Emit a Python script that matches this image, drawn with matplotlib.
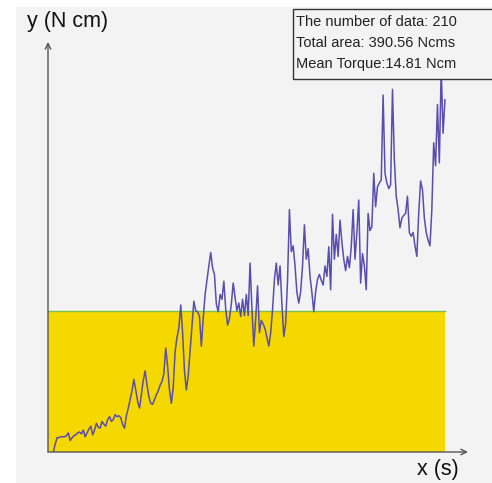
import numpy as np
import matplotlib.pyplot as plt
from matplotlib.patches import Rectangle

plt.rcParams['font.family'] = ['Liberation Sans', 'DejaVu Sans']

# torque readings (N cm), one per sample
torque = [
    0.0, 0.8, 1.5, 1.5, 1.6, 1.6, 1.6, 1.7, 2.0, 1.2,
    1.5, 1.7, 1.8, 2.0, 2.1, 1.9, 2.3, 1.6, 2.0, 2.4,
    2.7, 1.8, 2.3, 3.0, 2.6, 2.5, 3.2, 2.9, 2.7, 3.4,
    3.7, 3.2, 3.4, 3.9, 3.7, 3.8, 3.6, 2.9, 2.5, 3.8,
    4.6, 5.5, 6.4, 7.6, 6.5, 5.3, 4.6, 6.0, 7.5, 8.5,
    7.0, 5.8, 5.1, 5.0, 5.5, 6.0, 6.4, 7.0, 7.4, 8.2,
    10.9, 9.0, 6.5, 5.1, 6.8, 10.5, 12.0, 13.0, 15.4, 12.5,
    8.5, 6.5, 8.0, 10.6, 13.2, 15.8, 14.8, 14.7, 14.2, 11.1,
    14.0, 16.5, 18.0, 19.5, 20.9, 19.3, 18.6, 15.5, 14.7, 16.5,
    16.0, 17.9, 15.0, 13.3, 14.0, 15.5, 17.7, 16.2, 14.8, 15.6,
    14.2, 16.0, 14.3, 16.5, 14.3, 19.8, 15.0, 11.1, 14.0, 17.4,
    12.5, 13.8, 13.4, 12.9, 12.0, 11.1, 12.5, 14.9, 18.1, 19.8,
    17.5, 19.5, 15.5, 12.1, 13.5, 18.0, 25.4, 21.0, 21.6, 19.5,
    16.7, 15.6, 16.8, 19.5, 23.8, 20.2, 21.3, 18.4, 16.7, 14.7,
    16.8, 18.1, 18.6, 18.0, 17.5, 19.5, 18.4, 21.5, 17.0, 24.9,
    20.2, 22.8, 20.5, 24.3, 22.0, 20.2, 19.0, 20.5, 19.3, 21.5,
    25.4, 20.2, 23.0, 26.4, 17.7, 20.8, 19.5, 17.0, 25.0, 23.2,
    23.6, 29.2, 25.7, 27.8, 28.2, 28.5, 37.4, 29.2, 28.2, 27.6,
    28.0, 38.0, 30.6, 26.8, 25.4, 23.5, 24.5, 24.8, 25.0, 26.8,
    23.0, 22.6, 23.0, 21.6, 20.5, 25.0, 28.4, 27.5, 24.5, 23.0,
    22.2, 21.6, 25.4, 32.4, 30.0, 36.4, 30.3, 40.1, 33.4, 36.9,
]

n_data = 210
total_area = 390.56   # N cm s
mean_torque = 14.81   # N cm
dt = total_area / mean_torque / n_data

time = np.arange(len(torque)) * dt

fig = plt.figure(figsize=(4.92, 4.83), dpi=100)
fig.patch.set_facecolor('white')
# light grey panel behind everything
fig.patches.append(Rectangle((16 / 492, 0), 1, 1 - 7 / 483, transform=fig.transFigure,
                             facecolor='#f3f3f3', edgecolor='none', zorder=0))

ax = fig.add_axes([48 / 492, 31 / 483, 420 / 492, 410 / 483])
ax.set_zorder(2)
ax.set_facecolor('none')
x_min = -2.83 * dt
x_max = 221.3 * dt
ax.set_xlim(x_min, x_max)
ax.set_ylim(0, 42.96)

# mean torque block
ax.fill_between([x_min, time[-1]], 0, mean_torque, color='#f5d800', lw=0, zorder=1)
ax.plot([x_min, time[-1]], [mean_torque, mean_torque], color='#7cc242', lw=1.0, zorder=2)

ax.plot(time, torque, color='#5a4db0', lw=1.1, zorder=3)

for s in ax.spines.values():
    s.set_visible(False)
ax.set_xticks([])
ax.set_yticks([])

# axes with arrow heads
ax.annotate('', xy=(1, 0), xytext=(0, 0), xycoords='axes fraction',
            arrowprops=dict(arrowstyle='->', color='#555555', lw=1.0,
                            shrinkA=0, shrinkB=0), zorder=4)
ax.annotate('', xy=(0, 1), xytext=(0, 0), xycoords='axes fraction',
            arrowprops=dict(arrowstyle='->', color='#555555', lw=1.0,
                            shrinkA=0, shrinkB=0), zorder=4)

fig.text(27 / 492, 1 - 22 / 483, 'y (N cm)', fontsize=15.5, color='#111111', va='center', ha='left')
fig.text(417 / 492, 1 - 470 / 483, 'x (s)', fontsize=15.5, color='#111111', va='center', ha='left')

# info box
fig.patches.append(Rectangle((293 / 492, 1 - 79 / 483), 210 / 492, 70 / 483,
                             transform=fig.transFigure, facecolor='#f3f3f3',
                             edgecolor='#333333', lw=1.0, zorder=5))
info = ['The number of data: %d' % n_data,
        'Total area: %.2f Ncms' % total_area,
        'Mean Torque:%.2f Ncm' % mean_torque]
for k, line in enumerate(info):
    fig.text(296 / 492, 1 - (22 + 21 * k) / 483, line, fontsize=10.5,
             color='#222222', va='center', ha='left', zorder=6)

fig.savefig('out.png', dpi=100)
